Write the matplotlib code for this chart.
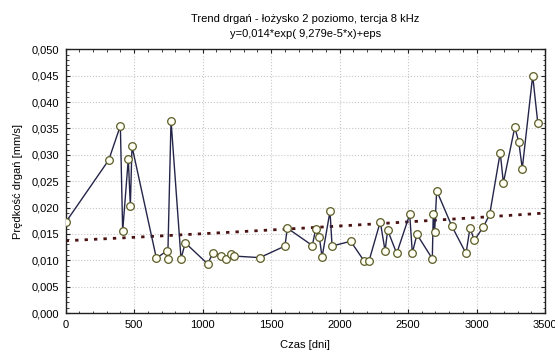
import numpy as np
import matplotlib
matplotlib.use("Agg")
import matplotlib.pyplot as plt
from matplotlib.ticker import MultipleLocator, FuncFormatter

plt.rcParams['font.family'] = ['Liberation Sans', 'DejaVu Sans']

# measurement days and vibration velocity [mm/s]
days = [0, 314, 399, 416, 457, 472, 484, 662, 740, 745, 769, 842, 873,
        1037, 1073, 1136, 1171, 1205, 1229, 1417, 1601, 1618,
        1801, 1825, 1852, 1872, 1930, 1945, 2081, 2178, 2215, 2297,
        2332, 2351, 2417, 2512, 2531, 2565, 2677, 2684, 2694, 2709,
        2819, 2923, 2952, 2984, 3049, 3096, 3173, 3196, 3279, 3308,
        3334, 3410, 3447]
velocity = [0.0172, 0.0290, 0.0355, 0.0155, 0.0292, 0.0203, 0.0316,
            0.0104, 0.0118, 0.0102, 0.0365, 0.0103, 0.0133,
            0.0093, 0.0113, 0.0109, 0.0102, 0.0111, 0.0108, 0.0105,
            0.0127, 0.0161,
            0.0128, 0.0159, 0.0144, 0.0106, 0.0193, 0.0127, 0.0136,
            0.0099, 0.0099, 0.0173, 0.0118, 0.0157, 0.0113, 0.0187,
            0.0114, 0.0149, 0.0103, 0.0188, 0.0154, 0.0232, 0.0165,
            0.0113, 0.0161, 0.0138, 0.0163, 0.0187, 0.0304, 0.0247,
            0.0352, 0.0325, 0.0274, 0.0450, 0.0361]

# fitted exponential trend y = a*exp(b*x)
trend_a = 0.0137
trend_b = 9.279e-5

title = "Trend drgań - łożysko 2 poziomo, tercja 8 kHz\ny=0,014*exp( 9,279e-5*x)+eps"

fig = plt.figure(figsize=(5.55, 3.53), dpi=100)
ax = fig.add_axes([0.1184, 0.1133, 0.8636, 0.747])

tx = np.linspace(0, 3500, 200)
ax.plot(tx, trend_a * np.exp(trend_b * tx), color='#4a1212', lw=2.0,
        ls=(0, (1.2, 2.2)), zorder=2)
ax.plot(days, velocity, color='#25254a', lw=1.0, marker='o', ms=5.5,
        mfc='#fffff4', mec='#5c5c28', mew=0.9, zorder=3)

ax.set_xlim(0, 3500)
ax.set_ylim(0, 0.05)
ax.xaxis.set_major_locator(MultipleLocator(500))
ax.xaxis.set_minor_locator(MultipleLocator(100))
ax.yaxis.set_major_locator(MultipleLocator(0.005))
ax.yaxis.set_minor_locator(MultipleLocator(0.001))
ax.yaxis.set_major_formatter(FuncFormatter(lambda v, p: f"{v:.3f}".replace('.', ',')))

ax.tick_params(which='both', direction='in', top=True, right=True,
               labelsize=8, color='#202020')
ax.tick_params(which='major', length=3, width=0.8, pad=5)
ax.tick_params(which='minor', length=1.8, width=0.6)
ax.grid(True, which='major', color='#c8c8c8', ls=':', lw=0.8)
ax.set_axisbelow(True)
for s in ax.spines.values():
    s.set_linewidth(1.0)
    s.set_color('#202020')

ax.set_xlabel("Czas [dni]", fontsize=8, labelpad=7)
ax.set_ylabel("Prędkość drgań [mm/s]", fontsize=8, labelpad=6)
ax.set_title(title, fontsize=8, linespacing=1.6, pad=9)

fig.savefig("out.png", dpi=100)
